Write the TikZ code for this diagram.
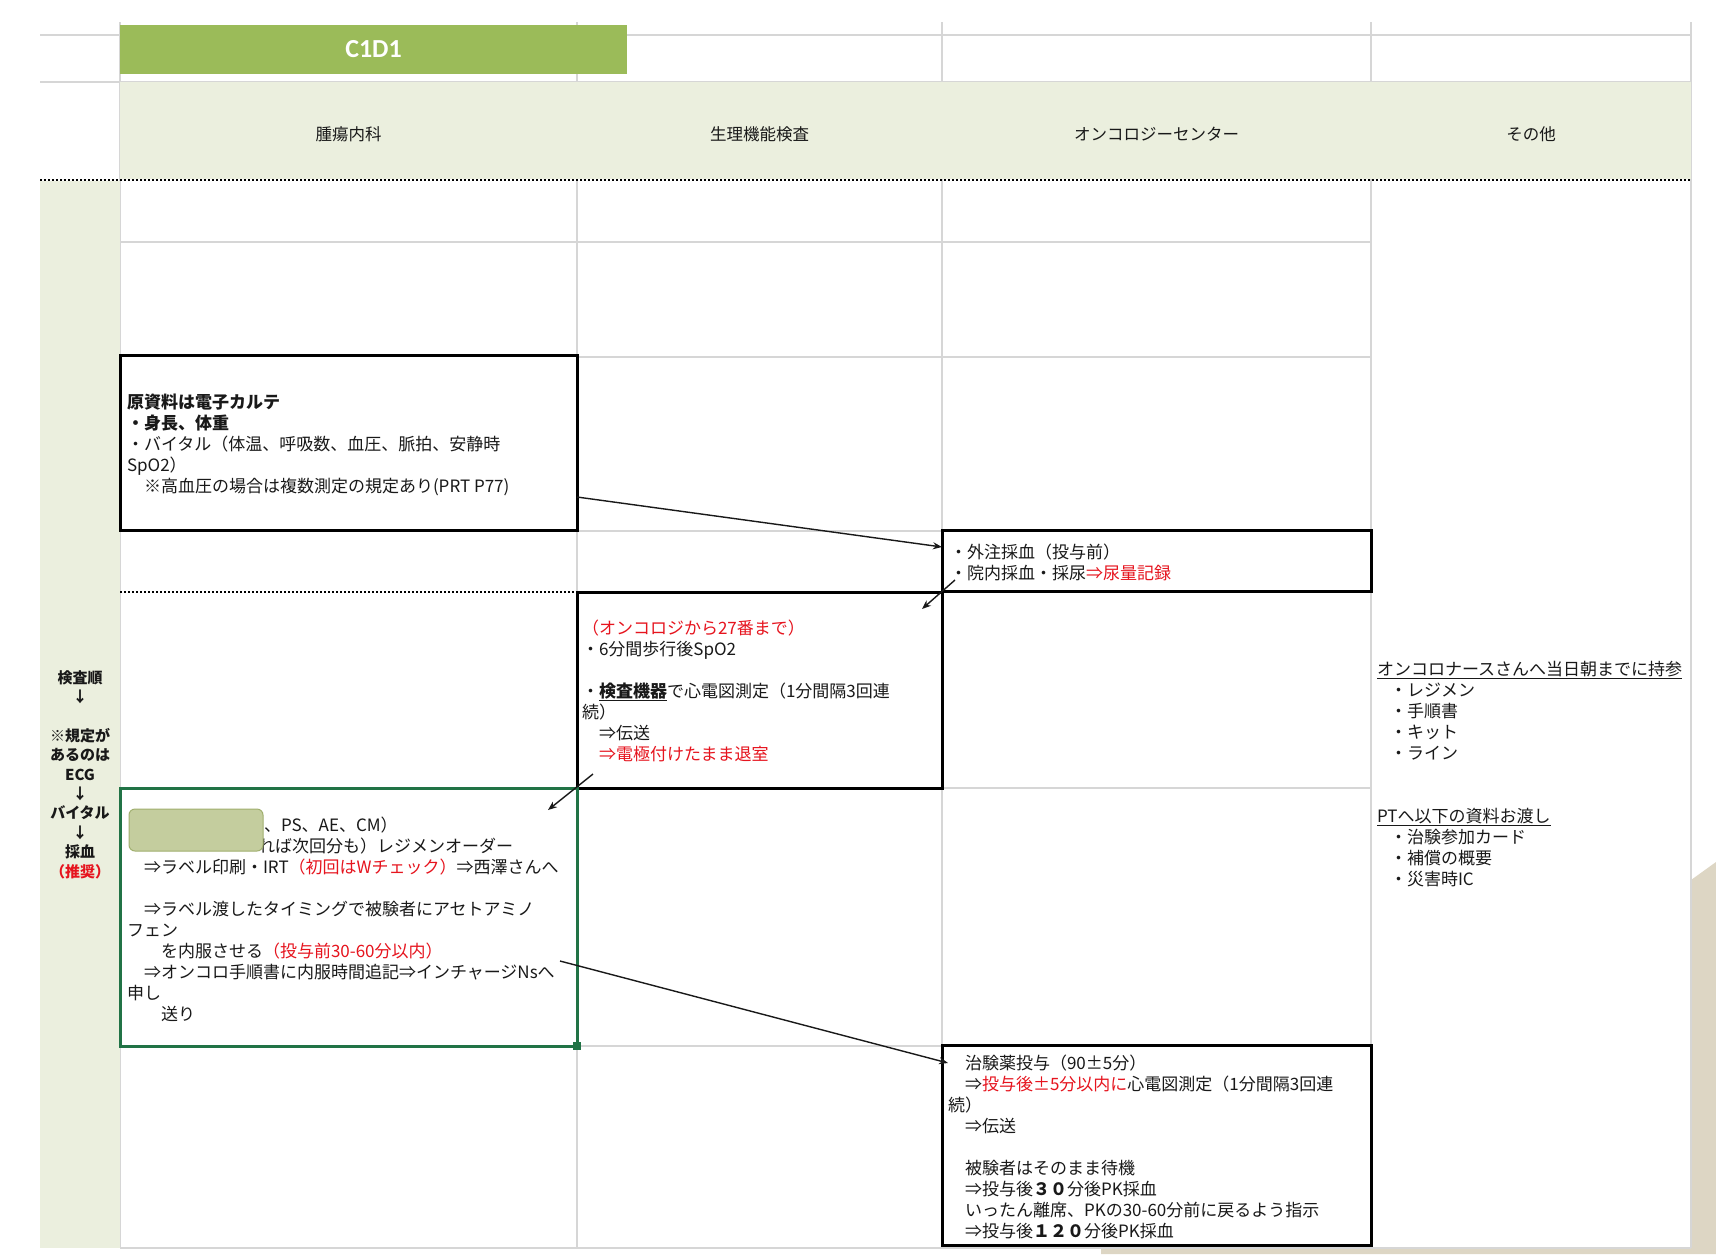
\documentclass[tikz,border=0pt]{standalone}
\usepackage{fontspec}
\setmainfont{Noto Sans CJK JP}
\newfontfamily\calibfont{Carlito}
\usetikzlibrary{arrows.meta,calc}
\definecolor{bandc}{RGB}{235,239,222}
\definecolor{headgreen}{RGB}{155,187,89}
\definecolor{gridc}{RGB}{214,214,214}
\definecolor{boxgreen}{RGB}{33,115,70}
\definecolor{redc}{RGB}{230,20,30}
\definecolor{decor}{RGB}{221,214,196}
\definecolor{maskc}{RGB}{196,205,158}
\definecolor{maskb}{RGB}{160,175,110}
\definecolor{txtc}{RGB}{25,25,25}
\newcommand{\redtxt}[1]{\textcolor{redc}{#1}}
\tikzset{
  gridline/.style={draw=gridc, line width=1.5pt},
  dotline/.style={draw=black, line width=2pt, dash pattern=on 2pt off 2pt},
  flowbox/.style={draw=black, line width=3pt, rectangle, anchor=north west, inner sep=0pt, outer sep=0pt, fill=white},
  bodytext/.style={anchor=north west, inner sep=0pt, outer sep=0pt, align=left, font=\fontsize{17}{21}\selectfont, text=txtc},
  headtext/.style={font=\fontsize{16.5}{20}\selectfont, text=txtc},
  flowarrow/.style={-{Stealth[length=9pt,width=7pt]}, line width=1.4pt, draw=black!90},
}
\begin{document}
\begin{tikzpicture}[x=1pt,y=-1pt]
\useasboundingbox (0,0) rectangle (1716,1254);
\fill[white] (0,0) rectangle (1716,1254);
% decorative background shape
\fill[decor] (1691,880) -- (1716,862) -- (1716,1254) -- (1101,1254) -- (1101,1248) -- (1691,1248) -- cycle;
% grid lines
\draw[gridline] (40,35) -- (1691,35);
\draw[gridline] (40,82) -- (1691,82);
\foreach \xx in {120,577,942,1371,1691} { \draw[gridline] (\xx,22) -- (\xx,1248); }
\foreach \yy in {242,357,531,788,1046} { \draw[gridline] (120,\yy) -- (1371,\yy); }
\draw[gridline] (120,1248) -- (1691,1248);
% header band and side strip
\fill[bandc] (120,82) rectangle (1691,179);
\fill[bandc] (40,181) rectangle (120,1248);
\draw[dotline] (40,180) -- (1691,180);
\draw[dotline] (120,592) -- (577,592);
% C1D1 title
\node[fill=headgreen, minimum width=507pt, minimum height=49pt, anchor=north west, inner sep=0pt, outer sep=0pt, text=white, font=\fontsize{26}{30}\selectfont\calibfont\bfseries] (c1d1) at (120,25) {C1D1};
% column headers
\node[headtext] (h1) at (348.5,134) {腫瘍内科};
\node[headtext] (h2) at (759.5,134) {生理機能検査};
\node[headtext] (h3) at (1156.5,134) {オンコロジーセンター};
\node[headtext] (h4) at (1531,134) {その他};
% side text
\node[anchor=north, align=center, inner sep=0pt, font=\fontsize{15}{19.4}\selectfont\bfseries, text=txtc] (side) at (80,670) {検査順\\↓\\[19.4pt]※規定が\\あるのは\\ECG\\↓\\バイタル\\↓\\採血\\\redtxt{（推奨）}};
% boxes
\node[flowbox, minimum width=457pt, minimum height=175pt] (b1) at (120,355) {};
\node[flowbox, minimum width=429pt, minimum height=61pt] (b2) at (942,530) {};
\node[flowbox, minimum width=365pt, minimum height=196pt] (b3) at (577,592) {};
\node[flowbox, draw=boxgreen, minimum width=457pt, minimum height=258pt] (b4) at (120,788) {};
\node[flowbox, minimum width=429pt, minimum height=200pt] (b5) at (942,1045) {};
\fill[boxgreen] (573,1042) rectangle (581,1050);
% box texts
\node[bodytext] (t1) at (127,394) {\textbf{原資料は電子カルテ}\\\textbf{・身長、体重}\\・バイタル（体温、呼吸数、血圧、脈拍、安静時\\SpO2）\\　※高血圧の場合は複数測定の規定あり(PRT P77)};
\node[bodytext] (t2) at (950,544) {・外注採血（投与前）\\・院内採血・採尿\redtxt{⇒尿量記録}};
\node[bodytext] (t3) at (582,620) {\redtxt{（オンコロジから27番まで）}\\・6分間歩行後SpO2\\[21pt]・\underline{\textbf{検査機器}}で心電図測定（1分間隔3回連\\続）\\　⇒伝送\\　\redtxt{⇒電極付けたまま退室}};
\node[bodytext] (t4a) at (264,817) {、PS、AE、CM）};
\node[bodytext] (t4b) at (258,838) {れば次回分も）レジメンオーダー};
\node[bodytext] (t4) at (127,859) {　⇒ラベル印刷・IRT\redtxt{（初回はWチェック）}⇒西澤さんへ\\[21pt]　⇒ラベル渡したタイミングで被験者にアセトアミノ\\フェン\\　　を内服させる\redtxt{（投与前30-60分以内）}\\　⇒オンコロ手順書に内服時間追記⇒インチャージNsへ\\申し\\　　送り};
\node[draw=maskb, fill=maskc, rounded corners=6pt, line width=1pt, anchor=north west, minimum width=134pt, minimum height=42pt, inner sep=0pt, outer sep=0pt] (mask) at (129,809) {};
\node[bodytext] (t5) at (948,1055) {　治験薬投与（90±5分）\\　⇒\redtxt{投与後±5分以内に}心電図測定（1分間隔3回連\\続）\\　⇒伝送\\[21pt]　被験者はそのまま待機\\　⇒投与後\textbf{３０}分後PK採血\\　いったん離席、PKの30-60分前に戻るよう指示\\　⇒投与後\textbf{１２０}分後PK採血};
\node[bodytext] (t6) at (1377,661) {\underline{オンコロナースさんへ当日朝までに持参}\\\hspace*{13pt}・レジメン\\\hspace*{13pt}・手順書\\\hspace*{13pt}・キット\\\hspace*{13pt}・ライン\\[42pt]\underline{PTへ以下の資料お渡し}\\\hspace*{13pt}・治験参加カード\\\hspace*{13pt}・補償の概要\\\hspace*{13pt}・災害時IC};
% arrows
\coordinate (a4s) at (560,961);
\draw[flowarrow] ([yshift=-54.5pt]b1.east) -- ([yshift=13.5pt]b2.west);
\draw[flowarrow] ([xshift=13pt,yshift=11pt]b2.south west) -- ([xshift=-20pt,yshift=-17pt]b3.north east);
\draw[flowarrow] ([xshift=16pt,yshift=14pt]b3.south west) -- ([xshift=-29pt,yshift=-22pt]b4.north east);
\draw[flowarrow] (a4s) -- ([xshift=6pt,yshift=-18pt]b5.north west);
\end{tikzpicture}
\end{document}
